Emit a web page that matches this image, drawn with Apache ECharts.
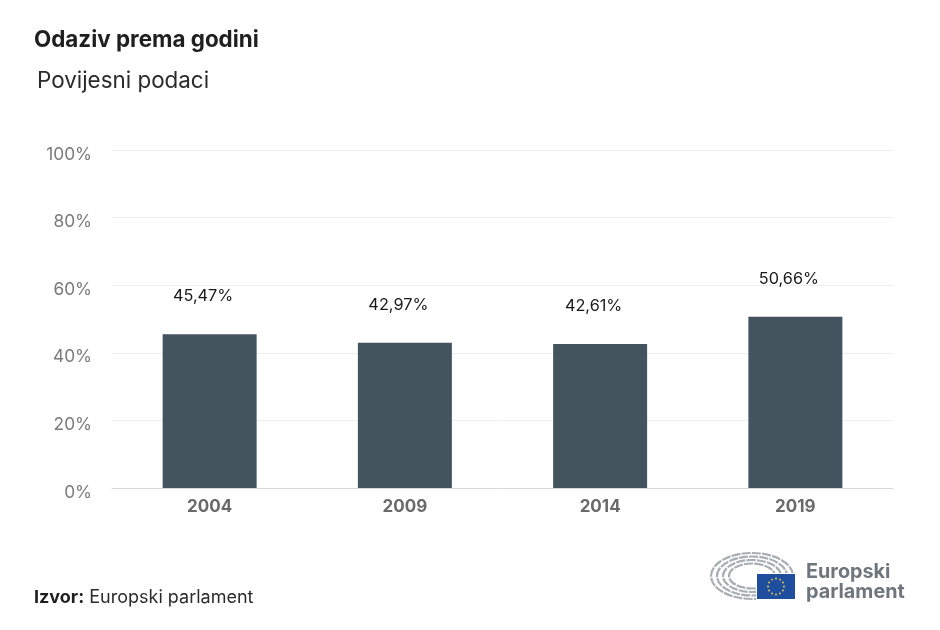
<!DOCTYPE html>
<html>
<head>
<meta charset="utf-8">
<title>Odaziv prema godini</title>
<script src="https://cdn.jsdelivr.net/npm/echarts@6/dist/echarts.min.js"></script>
<style>
html, body { margin: 0; padding: 0; background: #fff; }
#chart { width: 940px; height: 630px; }
</style>
</head>
<body>
<div id="chart"></div>
<script>
var years = ['2004', '2009', '2014', '2019'];
var turnout = [45.47, 42.97, 42.61, 50.66];
var yTicks = [0, 20, 40, 60, 80, 100];

var font = 'Inter';
var myChart = echarts.init(document.getElementById('chart'));

// logo: hemicycle rings, flag and stars
var logo = [];
[[41, 23], [35, 19.5], [29, 16], [23, 12.5]].forEach(function (r) {
    logo.push({
        type: 'ellipse',
        shape: { cx: 752, cy: 576, rx: r[0], ry: r[1] },
        style: { fill: null, stroke: '#a9aeb2', lineWidth: 2.2, lineDash: [9, 1.2] }
    });
});
logo.push({
    type: 'rect',
    shape: { x: 756, y: 573, width: 40, height: 27 },
    style: { fill: '#fff' }
});
logo.push({
    type: 'rect',
    shape: { x: 757, y: 574, width: 38, height: 25 },
    style: { fill: '#1f4e9f' }
});
for (var i = 0; i < 12; i++) {
    var a = i * Math.PI / 6;
    logo.push({
        type: 'circle',
        shape: { cx: 776 + 8 * Math.cos(a), cy: 586.5 + 8 * Math.sin(a), r: 0.9 },
        style: { fill: '#f2d64b' }
    });
}
logo.push({
    type: 'text',
    x: 806,
    y: 562,
    style: {
        text: 'Europski\nparlament',
        font: 'bold 19.8px ' + font,
        lineHeight: 20,
        fill: '#6e767c'
    }
});

var option = {
    backgroundColor: '#fff',
    animation: false,
    textStyle: { fontFamily: font },
    title: [
        {
            text: 'Odaziv prema godini',
            left: 34,
            top: 29,
            padding: 0,
            textStyle: { fontFamily: font, fontSize: 22.4, fontWeight: 'bold', color: '#1f1f1f' }
        },
        {
            text: 'Povijesni podaci',
            left: 37,
            top: 70,
            padding: 0,
            textStyle: { fontFamily: font, fontSize: 22.4, fontWeight: 'normal', color: '#2b2b2b' }
        },
        {
            text: '{b|Izvor:} {n|Europski parlament}',
            left: 34,
            top: 589,
            padding: 0,
            textStyle: {
                fontWeight: 'normal',
                rich: {
                    b: { fontFamily: font, fontSize: 18, fontWeight: 'bold', color: '#1f1f1f' },
                    n: { fontFamily: font, fontSize: 18, fontWeight: 'normal', color: '#2b2b2b' }
                }
            }
        }
    ],
    grid: { left: 112, right: 47, top: 150, bottom: 142 },
    xAxis: {
        type: 'category',
        data: years,
        axisLine: { lineStyle: { color: '#d5d9dc', width: 1 } },
        axisTick: { show: false },
        axisLabel: { fontFamily: font, fontSize: 17, fontWeight: 'bold', color: '#6a6a6a', margin: 10 }
    },
    yAxis: {
        type: 'value',
        min: yTicks[0],
        max: yTicks[yTicks.length - 1],
        interval: 20,
        axisLine: { show: false },
        axisTick: { show: false },
        splitLine: { lineStyle: { color: '#eceeef', width: 1 } },
        axisLabel: {
            fontFamily: font,
            fontSize: 17.3,
            color: '#7a7a7a',
            margin: 20,
            verticalAlign: 'top',
            lineHeight: 9,
            formatter: '{value}%'
        }
    },
    series: [{
        type: 'bar',
        data: turnout,
        barWidth: 94,
        itemStyle: { color: '#44545f' },
        label: {
            show: true,
            position: 'top',
            distance: 30,
            offset: [-6.5, 0],
            fontFamily: font,
            fontSize: 16.3,
            color: '#1a1a1a',
            formatter: function (p) {
                return p.value.toFixed(2).replace('.', ',') + '%';
            }
        }
    }],
    graphic: logo
};

myChart.setOption(option);
</script>
</body>
</html>
